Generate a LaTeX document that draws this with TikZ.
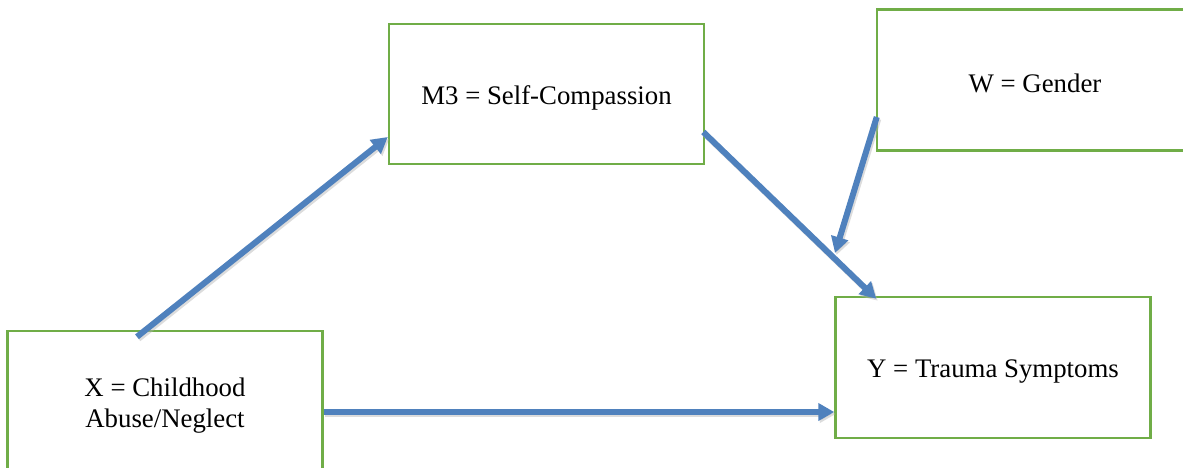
\documentclass[tikz,border=0pt]{standalone}
\usepackage{fontspec}
\setmainfont{Liberation Serif}
\usetikzlibrary{arrows.meta,calc}
\definecolor{boxgreen}{RGB}{112,173,71}
\definecolor{arrowblue}{RGB}{79,129,189}
\tikzset{
  varbox/.style={draw=boxgreen, line width=2.5pt, fill=white, minimum width=315pt, minimum height=141pt, inner sep=0pt},
  lbl/.style={inner sep=0pt, align=center, font=\fontsize{26.8}{31}\selectfont},
  path arrow/.style={draw=arrowblue, line width=6pt, -{Triangle[length=16pt,width=17pt]}},
  shadow arrow/.style={draw=black!30, opacity=0.45, line width=6pt, -{Triangle[length=16pt,width=17pt]}, transform canvas={shift={(1.5pt,-2pt)}}}
}
\begin{document}
\begin{tikzpicture}[x=1pt,y=-1pt]
\useasboundingbox (0,0) rectangle (1183,467);
\clip (0,0) rectangle (1183,467);
\fill[white] (0,0) rectangle (1183,467);
\node[varbox, minimum height=142pt] (x) at (165,402) {};
\node[varbox, minimum height=140pt] (m) at (546.5,94) {};
\node[varbox, minimum width=316pt] (w) at (1035,80) {};
\node[varbox] (y) at (993,367.5) {};
\node[lbl] (xt) at ($(x)+(0,4)$) {X = Childhood\\Abuse/Neglect};
\node[lbl] (mt) at ($(m)+(0,4)$) {M3 = Self-Compassion};
\node[lbl] (wt0) at ($(w)+(0,3)$) {W = Gender};
\node[lbl] (yt) at ($(y)+(0,4)$) {Y = Trauma Symptoms};
\coordinate (xs) at ($(x.north)+(-28,7)$);
\coordinate (mi) at ($(m.west)+(0,43)$);
\coordinate (mo) at ($(m.east)+(-2,38)$);
\coordinate (yi) at ($(y.north west)+(42,3)$);
\coordinate (ws) at ($(w.west)+(1,37)$);
\coordinate (wt) at (835,253);
\coordinate (xo) at ($(x.east)+(0,10)$);
\coordinate (yl) at ($(y.west)+(0,44.5)$);
\foreach \a/\b in {xs/mi, mo/yi, ws/wt, xo/yl}{
  \draw[shadow arrow] (\a) -- (\b);
}
\draw[path arrow] (xs) -- (mi);
\draw[path arrow] (mo) -- (yi);
\draw[path arrow] (ws) -- (wt);
\draw[path arrow] (xo) -- (yl);
\end{tikzpicture}
\end{document}
